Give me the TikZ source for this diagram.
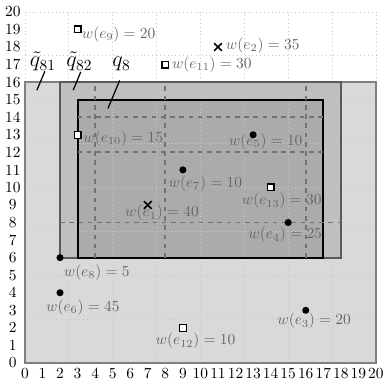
\documentclass[tikz,border=0pt]{standalone}
\usetikzlibrary{shapes.misc}
\begin{document}
\begin{tikzpicture}[x=0.4cm,y=0.4cm,
  gridline/.style={black!22, dotted, line width=0.5pt},
  dashline/.style={black!55, dashed, line width=1.2pt},
  lbl/.style={text=black!60, inner sep=0pt},
  dotmark/.style={circle, fill=black, inner sep=0pt, minimum size=4.6pt},
  sqmark/.style={rectangle, draw=black, fill=white, line width=0.8pt, inner sep=0pt, minimum size=4.4pt},
  crossmark/.style={cross out, draw=black, line width=1pt, inner sep=0pt, minimum size=4pt},
  qlbl/.style={font=\Large, anchor=base, inner sep=0pt},
  qline/.style={black, line width=0.8pt},
  ]
\useasboundingbox (-1.42,-1.37) rectangle (20.55,20.68);
% fills
\fill[black!15] (0,0) rectangle (20,16);
\fill[black!25] (2,6) rectangle (18,16);
\fill[black!33] (3,6) rectangle (17,15);
% grid
\draw[gridline] (0,0) grid (20,20);
% borders
\draw[black!50, line width=1.2pt] (0,0) rectangle (20,16);
\draw[black!65, line width=1.2pt] (2,6) rectangle (18,16);
\draw[black, line width=1.2pt] (3,6) rectangle (17,15);
% dashed lines
\draw[dashline] (4,6) -- (4,16);
\draw[dashline] (8,6) -- (8,16);
\draw[dashline] (16,6) -- (16,16);
\draw[dashline] (3,14) -- (17,14);
\draw[dashline] (3,12) -- (17,12);
\draw[dashline] (2,8) -- (18,8);
% axis labels
\foreach \i in {0,...,20} {
  \node (xl\i) at (\i,0) [below] {\i};
  \node (yl\i) at (-0.69,\i) {\i};
}
% region labels
\node[qlbl] (q81) at (1.02,16.88) {$\tilde{q}_{81}$};
\node[qlbl] (q82) at (3.1,16.88) {$\tilde{q}_{82}$};
\node[qlbl] (q8) at (5.5,16.88) {$q_{8}$};
\coordinate (c81a) at (1.14,16.62);
\coordinate (c81b) at (0.68,15.54);
\coordinate (c82a) at (3.18,16.58);
\coordinate (c82b) at (2.75,15.54);
\coordinate (c8a) at (5.4,16.1);
\coordinate (c8b) at (4.73,14.5);
\draw[qline] (c81a) -- (c81b);
\draw[qline] (c82a) -- (c82b);
\draw[qline] (c8a) -- (c8b);
% markers
\node[crossmark] (e1) at (7,9) {};
\node[crossmark] (e2) at (11,18) {};
\node[dotmark] (e3) at (16,3) {};
\node[dotmark] (e4) at (15,8) {};
\node[dotmark] (e5) at (13,13) {};
\node[dotmark] (e6) at (2,4) {};
\node[dotmark] (e7) at (9,11) {};
\node[dotmark] (e8) at (2,6) {};
\node[sqmark] (e9) at (3,19) {};
\node[sqmark] (e10) at (3,13) {};
\node[sqmark] (e11) at (8,17) {};
\node[sqmark] (e12) at (9,2) {};
\node[sqmark] (e13) at (14,10) {};
% weight labels
\node[lbl] (w1) at (7.81,8.54) {$w(e_{1})=40$};
\node[lbl] (w2) at (13.55,18.07) {$w(e_{2})=35$};
\node[lbl] (w3) at (16.48,2.39) {$w(e_{3})=20$};
\node[lbl] (w4) at (14.83,7.29) {$w(e_{4})=25$};
\node[lbl] (w5) at (13.72,12.63) {$w(e_{5})=10$};
\node[lbl] (w6) at (3.3,3.16) {$w(e_{6})=45$};
\node[lbl] (w7) at (10.28,10.24) {$w(e_{7})=10$};
\node[lbl] (w8) at (4.09,5.15) {$w(e_{8})=5$};
\node[lbl] (w9) at (5.34,18.73) {$w(e_{9})=20$};
\node[lbl] (w10) at (5.6,12.78) {$w(e_{10})=15$};
\node[lbl] (w11) at (10.65,17.02) {$w(e_{11})=30$};
\node[lbl] (w12) at (9.72,1.25) {$w(e_{12})=10$};
\node[lbl] (w13) at (14.63,9.22) {$w(e_{13})=30$};
\end{tikzpicture}
\end{document}
